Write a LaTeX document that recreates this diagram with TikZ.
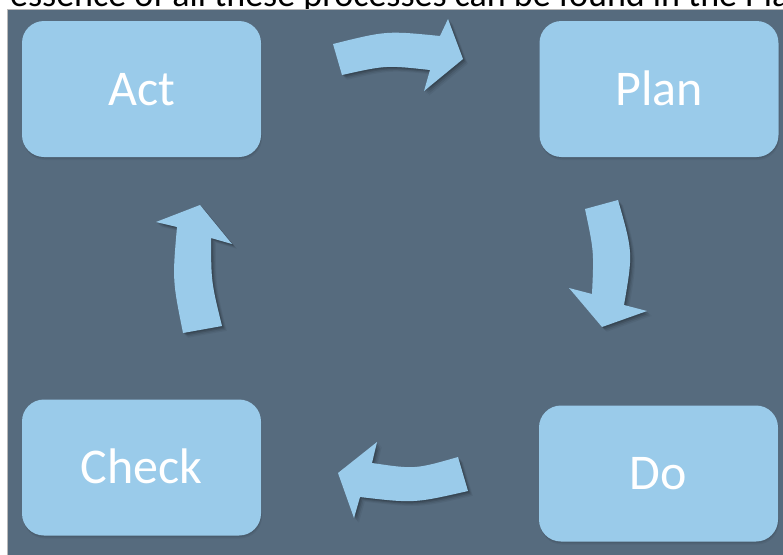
\documentclass[tikz,border=0pt]{standalone}
\usepackage{fontspec}
\setmainfont{Carlito}
\usetikzlibrary{shadows}
\definecolor{bgslate}{RGB}{86,107,126}
\definecolor{boxblue}{RGB}{154,203,234}
\begin{document}
\begin{tikzpicture}[x=1pt,y=-1pt,
  stagebox/.style={fill=boxblue, rounded corners=22pt, minimum width=239pt,
    minimum height=136pt, inner sep=0pt, text=white,
    font=\fontsize{50}{60}\selectfont, text height=32pt, text depth=0pt,
    drop shadow={shadow xshift=0.5pt, shadow yshift=-1.5pt, opacity=0.08, fill=black},
    drop shadow={shadow xshift=1pt, shadow yshift=-3pt, opacity=0.05, fill=black}},
  cyclearrow/.style={fill=boxblue,
    drop shadow={shadow xshift=1.2pt, shadow yshift=-1.2pt, opacity=0.14, fill=black},
    drop shadow={shadow xshift=2.4pt, shadow yshift=-2.4pt, opacity=0.11, fill=black},
    drop shadow={shadow xshift=3.6pt, shadow yshift=-3.6pt, opacity=0.08, fill=black},
    drop shadow={shadow xshift=4.8pt, shadow yshift=-4.8pt, opacity=0.05, fill=black}}]
\useasboundingbox (0,0) rectangle (783,554);
\clip (0,0) rectangle (783,554);
\node[anchor=base west, font=\fontsize{36}{40}\selectfont, inner sep=0pt] (caption) at (10,6)
  {essence of all these processes can be found in the Plan};
\path[fill=bgslate, draw=gray!55, line width=1pt] (7.5,9.5) rectangle (790,560);

\node[stagebox] (act) at (141.5,89) {Act};
\node[stagebox] (plan) at (659,89) {Plan};
\node[stagebox] (check) at (141.5,467.5) {Check};
\node[stagebox] (do) at (658.5,473.5) {Do};

% Act -> Plan
\path[cyclearrow] (333,44) .. controls (386.5,30.7) .. (440,36) -- (448,19) -- (463,59)
  -- (424,91) -- (430,70) .. controls (386,65.2) .. (342,75) -- cycle;
% Plan -> Do
\path[cyclearrow] (585,209) -- (618,200) .. controls (633,252.5) .. (624,305) -- (647,311)
  -- (602,327) -- (569,288) -- (592,294) .. controls (594,251.5) .. cycle;
% Do -> Check
\path[cyclearrow] (458,457) .. controls (415,469.3) .. (372,463) -- (377,442) -- (338,473)
  -- (354,518) -- (360,497) .. controls (414,503.3) .. (468,491) -- cycle;
% Check -> Act
\path[cyclearrow] (183,333) -- (222,326) .. controls (211.2,282) .. (211,238) -- (232,244)
  -- (200,205) -- (156,222) -- (177,227) .. controls (172.4,280) .. cycle;
\end{tikzpicture}
\end{document}
